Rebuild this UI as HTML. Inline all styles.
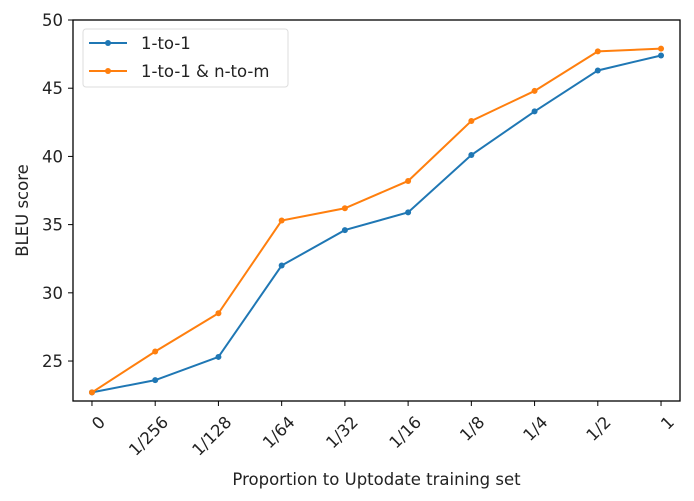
<!DOCTYPE html>
<html><head><meta charset="utf-8"><style>
html,body{margin:0;padding:0;background:#fff;}
svg{display:block;font-family:"DejaVu Sans","Liberation Sans",sans-serif;}
</style></head><body>
<svg id="chart" width="694" height="501"></svg>
<script>
const categories=["0","1/256","1/128","1/64","1/32","1/16","1/8","1/4","1/2","1"];
const series1=[22.7,23.6,25.3,32.0,34.6,35.9,40.1,43.3,46.3,47.4];
const series2=[22.7,25.7,28.5,35.3,36.2,38.2,42.6,44.8,47.7,47.9];
const yTicks=[25,30,35,40,45,50];
const seriesNames=["1-to-1","1-to-1 & n-to-m"];
const L=73,R=680,T=20,B=401,xmin=-0.3,xmax=9.3,ymin=22.07,ymax=50;
const sx=i=>L+(i-xmin)/(xmax-xmin)*(R-L);
const sy=v=>B-(v-ymin)/(ymax-ymin)*(B-T);
const svg=document.getElementById('chart');
const NS="http://www.w3.org/2000/svg";
function mk(tag,attrs,parent){const e=document.createElementNS(NS,tag);for(const k in attrs)e.setAttribute(k,attrs[k]);(parent||svg).appendChild(e);return e;}
const colors=["#1f77b4","#ff7f0e"];
[series1,series2].forEach((s,si)=>{
  const g=mk('g',{});
  
  
  mk('polyline',{points:s.map((v,i)=>sx(i)+','+sy(v)).join(' '),fill:'none',stroke:colors[si],'stroke-width':2},g);
  s.forEach((v,i)=>{const c=mk('circle',{cx:sx(i),cy:sy(v),r:3,fill:colors[si]},g);
    
    });
});
const box=mk('rect',{x:L,y:T,width:R-L,height:B-T,fill:'none',stroke:'#000','stroke-width':1.3});


yTicks.forEach(v=>{
  mk('line',{x1:L-5,x2:L,y1:sy(v),y2:sy(v),stroke:'#000'});
  const t=mk('text',{x:L-10,y:sy(v)+6,'text-anchor':'end','font-size':16.5,fill:'#222'});
  t.textContent=v;
  
  
});
categories.forEach((c,i)=>{
  mk('line',{x1:sx(i),x2:sx(i),y1:B,y2:B+5,stroke:'#000'});
  const x=sx(i)+6,y=B+14;
  const t=mk('text',{x:x,y:y,'text-anchor':'end','font-size':16.5,fill:'#222',transform:`rotate(-45 ${x} ${y})`,dy:'0.7em'});
  t.textContent=c;
  
  
});
const xl=mk('text',{x:(L+R)/2,y:485,'text-anchor':'middle','font-size':16.5,fill:'#222'});
xl.textContent="Proportion to Uptodate training set";


const yl=mk('text',{x:28,y:(T+B)/2,'text-anchor':'middle','font-size':16.5,fill:'#222',transform:`rotate(-90 28 ${(T+B)/2})`});
yl.textContent="BLEU score";


const lg=mk('g',{});


mk('rect',{x:83,y:29,width:205,height:58,rx:3,fill:'#fff',stroke:'#ddd'},lg);
seriesNames.forEach((n,i)=>{
  const y=43+i*28;
  const e=mk('g',{},lg);
  
  
  mk('line',{x1:89,x2:127,y1:y,y2:y,stroke:colors[i],'stroke-width':2},e);
  mk('circle',{cx:108,cy:y,r:3,fill:colors[i]},e);
  const t=mk('text',{x:141,y:y+6,'font-size':16.5,fill:'#222'},e);
  t.textContent=n;
});
</script>
</body></html>
